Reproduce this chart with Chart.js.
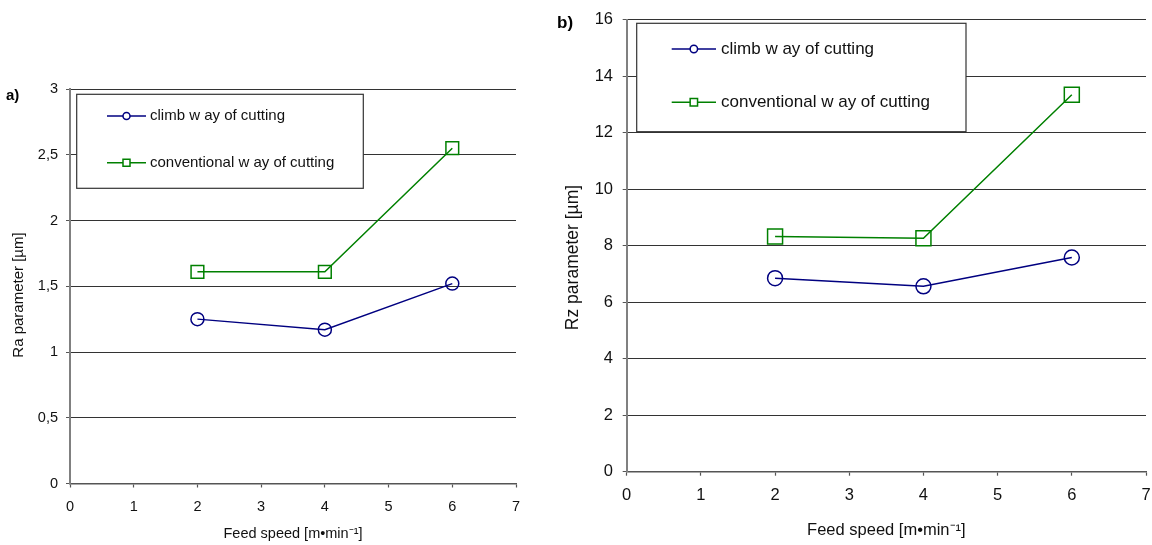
<!DOCTYPE html>
<html>
<head>
<meta charset="utf-8">
<script src="https://cdn.jsdelivr.net/npm/chart.js@4.4.1/dist/chart.umd.min.js"></script>
<style>
  html, body { margin: 0; padding: 0; background: #fff; overflow: hidden; }
  body { width: 1152px; height: 545px; position: relative; }
  canvas { position: absolute; top: 0; }
  #chartRa { left: 0; }
  #chartRz { left: 555px; }
</style>
</head>
<body>
<canvas id="chartRa" width="555" height="545"></canvas>
<canvas id="chartRz" width="610" height="545"></canvas>
<script>
// values
const feedSpeed = [2, 4, 6];
const raClimb = [1.25, 1.17, 1.52];
const raConventional = [1.61, 1.61, 2.55];
const rzClimb = [6.85, 6.56, 7.58];
const rzConventional = [8.32, 8.26, 13.34];

const seriesLabels = ['climb w ay of cutting', 'conventional w ay of cutting'];
const xAxisMax = 7;
const raAxisMax = 3, raStep = 0.5;
const rzAxisMax = 16, rzStep = 2;

const FONT = "'Liberation Sans', Arial, sans-serif";
const NAVY = '#000080';
const GREEN = '#008000';

// legend box, panel letter and the (slightly off-centre) y title,
// drawn over the grid but under the lines
const boxLegend = {
    id: 'boxLegend',
    beforeDatasetsDraw(chart, args, o) {
        const ctx = chart.ctx;
        const [x0, y0, x1, y1] = o.box;
        ctx.save();
        ctx.fillStyle = '#fff';
        ctx.fillRect(x0, y0, x1 - x0, y1 - y0);
        ctx.strokeStyle = '#333';
        ctx.lineWidth = 1.2;
        ctx.strokeRect(x0, y0, x1 - x0, y1 - y0);

        chart.data.datasets.forEach((ds, i) => {
            const y = o.rows[i];
            const mx = (o.lineX[0] + o.lineX[1]) / 2;
            ctx.strokeStyle = ds.borderColor;
            ctx.lineWidth = 1.5;
            ctx.beginPath();
            ctx.moveTo(o.lineX[0], y);
            ctx.lineTo(o.lineX[1], y);
            ctx.stroke();
            ctx.fillStyle = '#fff';
            ctx.beginPath();
            if (ds.pointStyle === 'rect') {
                ctx.rect(mx - o.mark, y - o.mark, o.mark * 2, o.mark * 2);
            } else {
                ctx.arc(mx, y, o.mark, 0, Math.PI * 2);
            }
            ctx.fill();
            ctx.stroke();
            ctx.fillStyle = '#111';
            ctx.font = o.fontSize + 'px ' + FONT;
            ctx.textBaseline = 'middle';
            ctx.textAlign = 'left';
            ctx.fillText(ds.label, o.textX, y);
        });

        ctx.fillStyle = '#000';
        ctx.font = 'bold ' + o.panelSize + 'px ' + FONT;
        ctx.textBaseline = 'middle';
        ctx.fillText(o.panel, o.panelX, o.panelY);

        // y axis title
        ctx.translate(o.yTitleX, o.yTitleY);
        ctx.rotate(-Math.PI / 2);
        ctx.fillStyle = '#111';
        ctx.font = o.yTitleSize + 'px ' + FONT;
        ctx.textAlign = 'center';
        ctx.fillText(o.yTitle, 0, 0);
        ctx.restore();
    }
};

function toPoints(ys) {
    return feedSpeed.map((x, i) => ({ x: x, y: ys[i] }));
}

function makePanel(id, p) {
    const ctx = document.getElementById(id).getContext('2d');
    return new Chart(ctx, {
        type: 'line',
        data: {
            datasets: [
                {
                    label: seriesLabels[0],
                    data: toPoints(p.climb),
                    borderColor: NAVY,
                    backgroundColor: 'rgba(0,0,0,0)',
                    borderWidth: 1.5,
                    pointStyle: 'circle',
                    pointRadius: p.circleR,
                    pointBorderWidth: 1.5,
                    pointBorderColor: NAVY,
                    pointBackgroundColor: 'rgba(0,0,0,0)',
                    tension: 0,
                },
                {
                    label: seriesLabels[1],
                    data: toPoints(p.conventional),
                    borderColor: GREEN,
                    backgroundColor: 'rgba(0,0,0,0)',
                    borderWidth: 1.5,
                    pointStyle: 'rect',
                    pointRadius: p.rectR,
                    pointBorderWidth: 1.5,
                    pointBorderColor: GREEN,
                    pointBackgroundColor: 'rgba(0,0,0,0)',
                    tension: 0,
                },
            ],
        },
        options: {
            responsive: false,
            animation: false,
            devicePixelRatio: 1,
            layout: { padding: p.padding },
            plugins: {
                legend: { display: false },
                tooltip: { enabled: false },
                boxLegend: p.legend,
            },
            scales: {
                x: {
                    type: 'linear',
                    min: 0,
                    max: xAxisMax,
                    afterFit: (s) => { s.height = p.xHeight; },
                    ticks: {
                        stepSize: 1,
                        color: '#111',
                        padding: p.xTickPad,
                        font: { family: FONT, size: p.tickSize },
                    },
                    grid: {
                        drawOnChartArea: false,
                        drawTicks: true,
                        tickLength: 4,
                        tickColor: '#555',
                        tickWidth: 1.2,
                    },
                    border: { display: true, color: '#555', width: 1.5 },
                    title: {
                        display: true,
                        text: 'Feed speed [m\u2022min\u207B\u00B9]',
                        color: '#111',
                        padding: { top: 0, bottom: p.xTitlePad },
                        font: { family: FONT, size: p.titleSize },
                    },
                },
                y: {
                    min: 0,
                    max: p.yMax,
                    afterFit: (s) => { s.width = p.yWidth; },
                    ticks: {
                        stepSize: p.yStep,
                        color: '#111',
                        padding: p.yTickPad,
                        font: { family: FONT, size: p.tickSize },
                        callback: (v) => String(v).replace('.', ','),
                    },
                    grid: {
                        color: '#333',
                        lineWidth: 1,
                        drawTicks: true,
                        tickLength: 4,
                        tickColor: '#555',
                    },
                    border: { display: true, color: '#808080', width: 2 },
                    title: { display: false },
                },
            },
        },
        plugins: [boxLegend],
    });
}

makePanel('chartRa', {
    climb: raClimb,
    conventional: raConventional,
    yMax: raAxisMax,
    yStep: raStep,
    circleR: 6.5,
    rectR: 9,
    tickSize: 14.5,
    titleSize: 14.5,
    padding: { left: 0, right: 39, top: 89, bottom: 0 },
    yWidth: 70,
    xHeight: 61.5,
    xTickPad: 10.5,
    yTickPad: 8,
    xTitlePad: 2,
    legend: {
        box: [76.7, 94.3, 363.3, 188.3],
        rows: [116, 162.7],
        lineX: [107, 146],
        mark: 3.5,
        textX: 150,
        fontSize: 15,
        panel: 'a)',
        panelX: 6,
        panelY: 95.5,
        panelSize: 15,
        yTitle: 'Ra parameter [\u00B5m]',
        yTitleX: 18.5,
        yTitleY: 295,
        yTitleSize: 15,
    },
});

makePanel('chartRz', {
    climb: rzClimb,
    conventional: rzConventional,
    yMax: rzAxisMax,
    yStep: rzStep,
    circleR: 7.5,
    rectR: 10.6,
    tickSize: 16.5,
    titleSize: 16.5,
    padding: { left: 0, right: 19, top: 16.7, bottom: 0 },
    yWidth: 71.7,
    xHeight: 73.3,
    xTickPad: 10,
    yTickPad: 9.7,
    xTitlePad: 5,
    legend: {
        box: [81.7, 23.3, 411, 131.7],
        rows: [49, 102.3],
        lineX: [116.7, 161],
        mark: 3.7,
        textX: 166,
        fontSize: 17,
        panel: 'b)',
        panelX: 2,
        panelY: 23,
        panelSize: 17,
        yTitle: 'Rz parameter [\u00B5m]',
        yTitleX: 18,
        yTitleY: 257.5,
        yTitleSize: 17.5,
    },
});
</script>
</body>
</html>
